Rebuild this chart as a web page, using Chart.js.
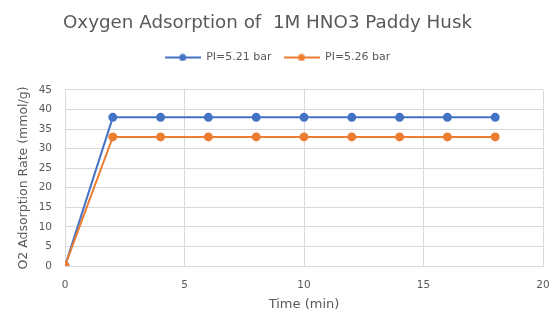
<!DOCTYPE html>
<html>
<head>
<meta charset="utf-8">
<script src="https://cdn.jsdelivr.net/npm/chart.js@4"></script>
<style>
  html, body { margin: 0; padding: 0; background: #fff; }
  #wrap { width: 549px; height: 312px; }
</style>
</head>
<body>
<div id="wrap"><canvas id="chart"></canvas></div>
<script>
"use strict";

const times = [0, 2, 4, 6, 8, 10, 12, 14, 16, 18];
const rate521 = [0, 38, 38, 38, 38, 38, 38, 38, 38, 38];
const rate526 = [0, 33, 33, 33, 33, 33, 33, 33, 33, 33];
const seriesNames = ["PI=5.21 bar", "PI=5.26 bar"];

const blue = "#4472c4";
const orange = "#ed7d31";
const gridColor = "#d9d9d9";
const textColor = "#595959";
const font = "DejaVu Sans";

function toPoints(values) {
  return times.map((t, i) => ({ x: t, y: values[i] }));
}

// legend marker: short line with a dot, like the Excel legend
function legendMarker(color) {
  const c = document.createElement("canvas");
  c.width = 36;
  c.height = 8;
  const g = c.getContext("2d");
  g.strokeStyle = color;
  g.lineWidth = 2;
  g.beginPath();
  g.moveTo(0, 4);
  g.lineTo(36, 4);
  g.stroke();
  g.fillStyle = color;
  g.beginPath();
  g.arc(18, 4, 3.5, 0, Math.PI * 2);
  g.fill();
  return c;
}

// room under the legend, and the title sits a bit left of centre
const tweaks = {
  id: "tweaks",
  afterInit(chart) {
    const fit = chart.legend.fit;
    chart.legend.fit = function () {
      fit.call(this);
      this.height += 17;
    };
    const draw = chart.titleBlock.draw;
    chart.titleBlock.draw = function () {
      this.ctx.save();
      this.ctx.translate(-10, -1);
      draw.call(this);
      this.ctx.restore();
    };
  }
};

new Chart(document.getElementById("chart"), {
  type: "line",
  plugins: [tweaks],
  data: {
    datasets: [
      {
        label: seriesNames[0],
        data: toPoints(rate521),
        borderColor: blue,
        backgroundColor: blue,
        borderWidth: 2,
        pointRadius: 3.5,
        pointHoverRadius: 3.5,
        order: 1
      },
      {
        label: seriesNames[1],
        data: toPoints(rate526),
        borderColor: orange,
        backgroundColor: orange,
        borderWidth: 2,
        pointRadius: 3.5,
        pointHoverRadius: 3.5,
        order: 0
      }
    ]
  },
  options: {
    responsive: true,
    maintainAspectRatio: false,
    animation: false,
    layout: { padding: { left: 12, right: 6, top: 4, bottom: 0 } },
    plugins: {
      title: {
        display: true,
        text: "Oxygen Adsorption of  1M HNO3 Paddy Husk",
        color: textColor,
        font: { family: font, size: 18.3, weight: "normal" },
        padding: { top: 9, bottom: 5 }
      },
      legend: {
        labels: {
          color: textColor,
          font: { family: font, size: 11 },
          usePointStyle: true,
          pointStyleWidth: 36,
          padding: 12,
          generateLabels(chart) {
            const colors = [blue, orange];
            return chart.data.datasets.map((ds, i) => ({
              text: ds.label,
              fontColor: textColor,
              pointStyle: legendMarker(colors[i]),
              datasetIndex: i,
              hidden: false,
              lineWidth: 0
            }));
          }
        }
      },
      tooltip: { enabled: false }
    },
    scales: {
      x: {
        type: "linear",
        min: 0,
        max: 20,
        afterFit(scale) {
          scale.height = 46;
          scale.paddingRight = 0;
        },
        ticks: { stepSize: 5, color: textColor, font: { family: font, size: 10.5 }, padding: 13 },
        grid: { color: gridColor, drawTicks: false },
        border: { color: gridColor },
        title: { display: true, text: "Time (min)", color: textColor, font: { family: font, size: 13 }, padding: { top: 4, bottom: 0 } }
      },
      y: {
        min: 0,
        max: 45,
        afterFit(scale) {
          scale.width = 53;
        },
        ticks: { stepSize: 5, color: textColor, font: { family: font, size: 10.5 }, padding: 13 },
        grid: { color: gridColor, drawTicks: false },
        border: { color: gridColor },
        title: { display: true, text: "O2 Adsorption Rate (mmol/g)", color: textColor, font: { family: font, size: 12.5 }, padding: { top: 4, bottom: 0 } }
      }
    }
  }
});
</script>
</body>
</html>
